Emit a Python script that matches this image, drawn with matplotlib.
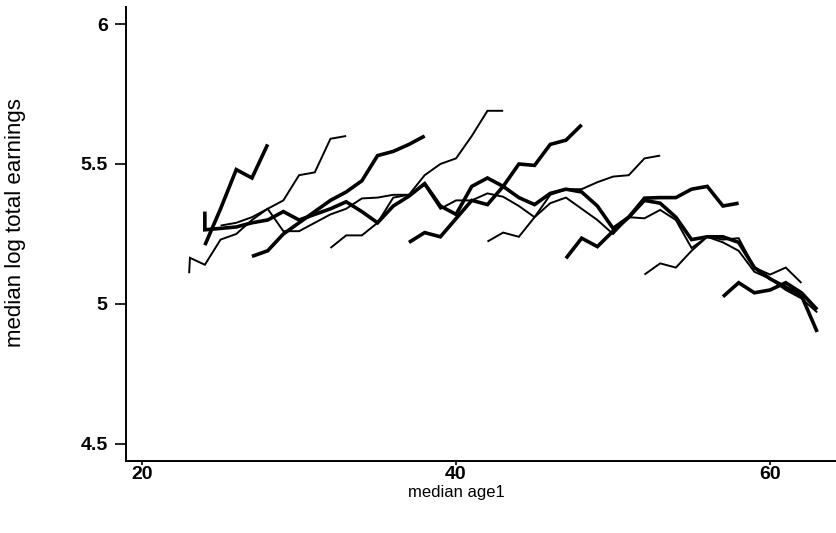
import matplotlib.pyplot as plt

# short cohort profiles (steep), alternating thick / thin
age_a = [24, 25, 26, 27, 28]
earn_a = [5.21, 5.34, 5.48, 5.45, 5.57]

age_b = [23, 23.05, 24, 25, 26, 27, 28, 29, 30, 31, 32, 33]
earn_b = [5.11, 5.165, 5.14, 5.23, 5.25, 5.30, 5.34, 5.37, 5.46, 5.47, 5.59, 5.60]

age_c = [27, 28, 29, 30, 31, 32, 33, 34, 35, 36, 37, 38]
earn_c = [5.17, 5.19, 5.25, 5.29, 5.33, 5.37, 5.40, 5.44, 5.53, 5.545, 5.57, 5.60]

age_d = [32, 33, 34, 35, 36, 37, 38, 39, 40, 41, 42, 43]
earn_d = [5.20, 5.245, 5.245, 5.29, 5.38, 5.39, 5.46, 5.50, 5.52, 5.60, 5.69, 5.69]

age_e = [37, 38, 39, 40, 41, 42, 43, 44, 45, 46, 47, 48]
earn_e = [5.22, 5.255, 5.24, 5.305, 5.37, 5.355, 5.42, 5.50, 5.495, 5.57, 5.585, 5.64]

age_f = [42, 43, 44, 45, 46, 47, 48, 49, 50, 51, 52, 53]
earn_f = [5.223, 5.255, 5.24, 5.31, 5.39, 5.41, 5.41, 5.435, 5.455, 5.46, 5.52, 5.53]

age_g = [47, 48, 49, 50, 51, 52, 53, 54, 55, 56, 57, 58]
earn_g = [5.163, 5.235, 5.205, 5.26, 5.31, 5.378, 5.38, 5.38, 5.41, 5.42, 5.35, 5.36]

age_h = [52, 53, 54, 55, 56, 57, 58, 59, 60, 61, 62]
earn_h = [5.105, 5.145, 5.13, 5.19, 5.24, 5.23, 5.235, 5.13, 5.105, 5.13, 5.075]

age_i = [57, 58, 59, 60, 61, 62, 63]
earn_i = [5.026, 5.076, 5.04, 5.05, 5.076, 5.04, 4.98]

# long flat profiles across the middle band
age_p = [24, 24, 25, 26, 27, 28, 29, 30, 31, 32, 33, 34, 35, 36, 37, 38, 39, 40, 41, 42, 43,
         44, 45, 46, 47, 48, 49, 50, 51, 52, 53, 54, 55, 56, 57, 58, 59, 60, 61, 62, 63]
earn_p = [5.33, 5.265, 5.27, 5.275, 5.29, 5.30, 5.33, 5.30, 5.32, 5.34, 5.365, 5.33, 5.29, 5.35,
          5.385, 5.43, 5.35, 5.32, 5.42, 5.45, 5.42, 5.38, 5.355, 5.395, 5.41, 5.40, 5.35, 5.27,
          5.31, 5.37, 5.36, 5.31, 5.23, 5.24, 5.24, 5.22, 5.13, 5.09, 5.06, 5.03, 4.90]

age_q = [25, 26, 27, 28, 29, 30, 31, 32, 33, 34, 35, 36, 37, 38, 39, 40, 41, 42, 43, 44, 45,
         46, 47, 48, 49, 50, 51, 52, 53, 54, 55, 56, 57, 58, 59, 60, 61, 62, 63]
earn_q = [5.28, 5.29, 5.31, 5.34, 5.26, 5.26, 5.29, 5.32, 5.34, 5.377, 5.38, 5.39, 5.39, 5.425,
          5.34, 5.37, 5.37, 5.395, 5.383, 5.35, 5.31, 5.36, 5.38, 5.34, 5.30, 5.25, 5.31, 5.306,
          5.336, 5.30, 5.20, 5.24, 5.22, 5.19, 5.115, 5.09, 5.05, 5.02, 4.97]

thick = 2.6
thin = 1.4
series = [
    (age_a, earn_a, thick), (age_b, earn_b, thin), (age_c, earn_c, thick),
    (age_d, earn_d, thin), (age_e, earn_e, thick), (age_f, earn_f, thin),
    (age_g, earn_g, thick), (age_h, earn_h, thin), (age_i, earn_i, thick),
    (age_p, earn_p, thick), (age_q, earn_q, thin),
]

plt.rcParams['font.family'] = ['Liberation Sans', 'DejaVu Sans']

fig = plt.figure(figsize=(8.36, 5.33), dpi=100)
ax = fig.add_axes([0.1504, 0.135, 0.8496, 0.852])

for x, y, lw in series:
    ax.plot(x, y, color='black', lw=lw, solid_joinstyle='miter', solid_capstyle='butt')

ax.set_xlim(18.96, 64.2)
ax.set_ylim(4.439, 6.061)
ax.set_xticks([20, 40, 60])
ax.set_yticks([4.5, 5, 5.5, 6])
ax.set_yticklabels(['4.5', '5', '5.5', '6'])
ax.tick_params(direction='out', width=1.2, labelsize=14)
ax.tick_params(axis='y', length=8, pad=5)
ax.tick_params(axis='x', length=3, pad=0.5)
for lab in ax.get_xticklabels() + ax.get_yticklabels():
    lab.set_fontweight('bold')

ax.spines['top'].set_visible(False)
ax.spines['right'].set_visible(False)
ax.spines['left'].set_linewidth(1.4)
ax.spines['bottom'].set_linewidth(1.4)

ax.set_xlabel('median age1', fontsize=12)
ax.xaxis.set_label_coords(0.466, -0.052)
ax.set_ylabel('median log total earnings', fontsize=16)
ax.yaxis.set_label_coords(-0.14, 0.526)

fig.savefig('out.png', dpi=100)
